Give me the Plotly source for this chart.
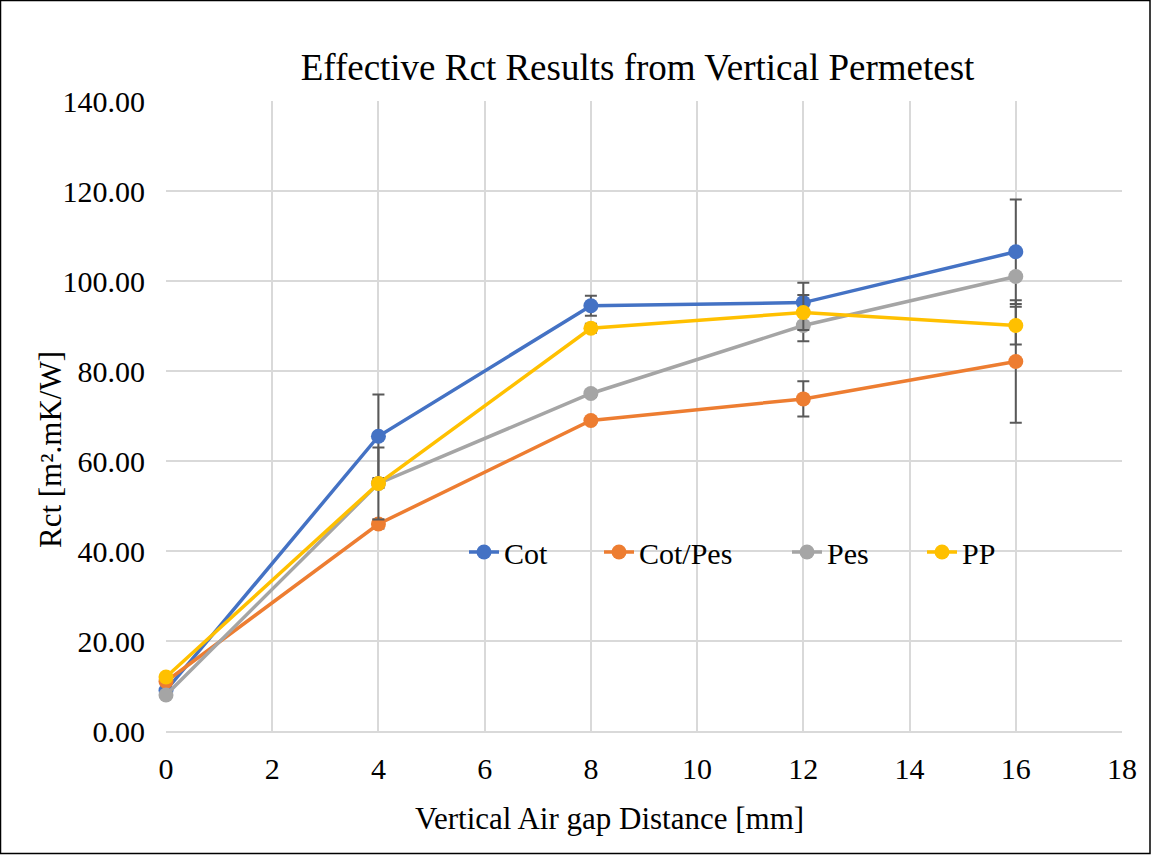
import plotly.graph_objects as go

x = [0, 4, 8, 12, 16]
series_names = ["Cot", "Cot/Pes", "Pes", "PP"]
cot = [9.0, 65.5, 94.5, 95.2, 106.5]
cot_err = [1.0, 9.3, 2.2, 4.4, 11.6]
cotpes = [11.0, 46.0, 69.0, 73.8, 82.1]
cotpes_err = [0.5, 1.0, 0.5, 3.9, 13.6]
pes = [8.0, 55.0, 75.0, 90.1, 101.0]
pes_err = [0.5, 8.0, 0.8, 3.5, 0.5]
pp = [12.0, 55.0, 89.5, 93.0, 90.1]
pp_err = [0.5, 1.0, 1.0, 3.9, 4.2]
colors = ["#4472C4", "#ED7D31", "#A5A5A5", "#FFC000"]

L, R, T, B = 166, 1122, 101, 731
PW, PH = R - L, B - T

def px_x(p):
    return (p - L) / PW

def px_y(p):
    return (B - p) / PH

legend_ids = ["legend", "legend2", "legend3", "legend4"]
legend_marker_px = [484, 619, 807, 942]

fig = go.Figure()
for name, ys, err, c, lid in zip(series_names, [cot, cotpes, pes, pp],
                                 [cot_err, cotpes_err, pes_err, pp_err],
                                 colors, legend_ids):
    fig.add_trace(go.Scatter(
        x=x, y=ys, name=name, mode="lines+markers", legend=lid,
        line=dict(color=c, width=3.5),
        marker=dict(color=c, size=15),
        cliponaxis=False,
        error_y=dict(type="data", array=err, visible=True,
                     color="#595959", thickness=2, width=6),
    ))

legend_layout = {}
for lid, mpx in zip(legend_ids, legend_marker_px):
    legend_layout[lid] = dict(
        orientation="h", x=px_x(mpx - 20), y=px_y(552),
        xanchor="left", yanchor="middle",
        bgcolor="rgba(0,0,0,0)", font=dict(size=30, family="Liberation Serif"),
    )

fig.update_layout(
    width=1152, height=855,
    margin=dict(l=L, r=1152 - R, t=T, b=855 - B),
    paper_bgcolor="white", plot_bgcolor="white",
    font=dict(family="Liberation Serif", color="black", size=30),
    title=dict(text="Effective Rct Results from Vertical Permetest",
               x=637.5 / 1152, xanchor="center",
               y=1 - 67 / 855, yanchor="middle",
               font=dict(size=37, family="Liberation Serif")),
    showlegend=True,
    **legend_layout,
)
fig.update_xaxes(range=[0, 18], dtick=2, tick0=0, showgrid=True,
                 gridcolor="#D9D9D9", gridwidth=2, zeroline=False,
                 showline=True, linecolor="#D9D9D9", linewidth=2, ticks="",
                 tickfont=dict(size=30), ticklabelstandoff=10)
fig.update_yaxes(range=[0, 140], dtick=20, tick0=0, tickformat=".2f",
                 showgrid=True, gridcolor="#D9D9D9", gridwidth=2,
                 zeroline=False, showline=False, ticks="",
                 tickfont=dict(size=30), ticklabelstandoff=20)
fig.add_annotation(text="Vertical Air gap Distance [mm]", xref="paper",
                   yref="paper", x=px_x(609), y=px_y(818), showarrow=False,
                   xanchor="center", yanchor="middle", font=dict(size=31))
fig.add_annotation(text="Rct [m².mK/W]", xref="paper", yref="paper",
                   x=px_x(50), y=px_y(450), showarrow=False, textangle=-90,
                   xanchor="center", yanchor="middle", font=dict(size=31))
fig.add_shape(type="rect", xref="paper", yref="paper",
              x0=px_x(0.5), x1=px_x(1150),
              y0=px_y(853.5), y1=px_y(0.5),
              line=dict(color="black", width=1.5), fillcolor="rgba(0,0,0,0)",
              layer="below")
fig.write_html("out.html")
